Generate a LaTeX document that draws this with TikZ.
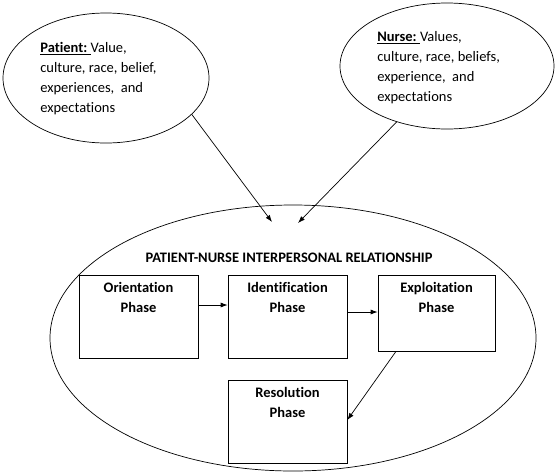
\documentclass[tikz,border=0pt]{standalone}
\usepackage{fontspec}
\setmainfont{Carlito}[Ligatures=NoCommon]
\usetikzlibrary{shapes.geometric,arrows.meta}
\begin{document}
\begin{tikzpicture}[x=1pt,y=-1pt,
  line width=0.7pt,
  oval/.style={draw,ellipse,inner sep=0pt},
  phasebox/.style={draw,rectangle,inner sep=0pt},
  boxtext/.style={anchor=north,align=center,inner sep=0pt,font=\fontsize{14.5}{20}\selectfont\bfseries},
  ovaltext/.style={anchor=north west,align=left,inner sep=0pt,font=\fontsize{14.5}{20}\selectfont},
  arr/.style={-{Latex[length=7pt,width=5pt]}}]
\useasboundingbox (0,0) rectangle (557,475);
\fill[white] (0,0) rectangle (557,475);
% ellipses
\node[oval,minimum width=206pt,minimum height=130pt] (pat) at (106,78) {};
\node[oval,minimum width=214pt,minimum height=126pt] (nur) at (447,66) {};
\node[oval,minimum width=486pt,minimum height=266pt] (rel) at (293,338) {};
% ellipse texts
\node[ovaltext] (pattxt) at (40,42) {\underline{\textbf{Patient:}\ }Value,\\culture, race, belief,\\experiences,\ \ and\\expectations};
\node[ovaltext] (nurtxt) at (377,31) {\underline{\textbf{Nurse:}\ }Values,\\culture, race, beliefs,\\experience,\ \ and\\expectations};
\node[font=\fontsize{14.5}{16}\selectfont\bfseries,inner sep=0pt] (title) at (289,258) {PATIENT-NURSE INTERPERSONAL RELATIONSHIP};
% boxes
\node[phasebox,minimum width=119pt,minimum height=83pt] (o) at (138.5,316.5) {};
\node[phasebox,minimum width=119pt,minimum height=83pt] (i) at (287.5,316.5) {};
\node[phasebox,minimum width=117pt,minimum height=76pt] (e) at (436.5,313) {};
\node[phasebox,minimum width=119pt,minimum height=83pt] (r) at (287.5,421.5) {};
\node[boxtext] (otxt) at ([yshift=-7pt]o.north) {Orientation\\Phase};
\node[boxtext] (itxt) at ([yshift=-7pt]i.north) {Identification\\Phase};
\node[boxtext] (etxt) at ([yshift=-7pt]e.north) {Exploitation\\Phase};
\node[boxtext] (rtxt) at ([yshift=-7pt]r.north) {Resolution\\Phase};
% connectors
\coordinate (tipL) at (272,222);
\coordinate (tipR) at (298,223);
\draw[arr] (pat.-23) -- (tipL);
\draw[arr] (nur.228) -- (tipR);
\draw[arr] (o.east |- 0,305) -- (i.west |- 0,305);
\draw[arr] (i.east |- 0,312) -- (e.west |- 0,312);
\draw[arr] (e.south -| 396,0) -- (r.east |- 0,420);
\end{tikzpicture}
\end{document}
